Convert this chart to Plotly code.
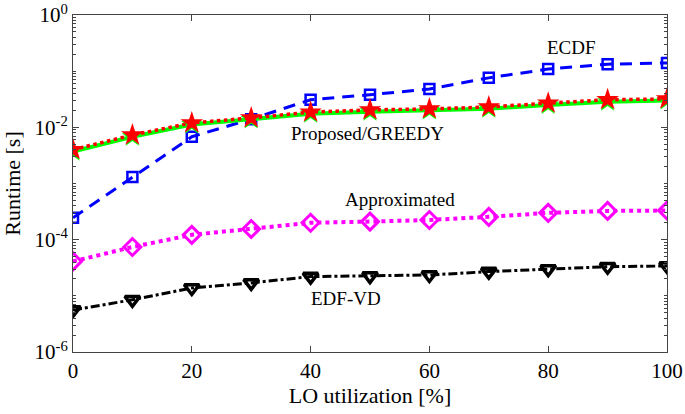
import math
import plotly.graph_objects as go

util = [0, 10, 20, 30, 40, 50, 60, 70, 80, 90, 100]

greedy = [0.0040, 0.0073, 0.012, 0.0147, 0.0187, 0.0204, 0.0213, 0.023, 0.027, 0.031, 0.032]
proposed = [0.0037, 0.0068, 0.0112, 0.0138, 0.0175, 0.019, 0.020, 0.0215, 0.025, 0.0285, 0.030]
ecdf = [2.45e-4, 1.3e-3, 6.8e-3, 0.014, 0.031, 0.038, 0.048, 0.076, 0.109, 0.133, 0.14]
approx = [4.1e-5, 7.4e-5, 1.22e-4, 1.55e-4, 2.0e-4, 2.1e-4, 2.24e-4, 2.55e-4, 3.0e-4, 3.25e-4, 3.3e-4]
edfvd = [5.6e-6, 8.5e-6, 1.38e-5, 1.7e-5, 2.2e-5, 2.25e-5, 2.35e-5, 2.7e-5, 3.0e-5, 3.3e-5, 3.4e-5]

labels = ["ECDF", "Proposed/GREEDY", "Approximated", "EDF-VD"]
label_x = [84, 49.5, 55, 46]
label_y = [0.26, 0.0079, 5.1e-4, 9.1e-6]

y_ticks = [1e-6, 1e-4, 1e-2, 1]
y_ticktext = ["10<sup>-6</sup>", "10<sup>-4</sup>", "10<sup>-2</sup>", "10<sup>0</sup>"]

FONT = "Liberation Serif, Times New Roman, serif"

fig = go.Figure()
fig.add_scatter(x=util, y=ecdf, mode="lines+markers", name="ECDF",
                line=dict(color="#0000ff", width=3, dash="12px,8px"),
                marker=dict(symbol="square-open", size=10, color="#0000ff",
                            line=dict(width=2.5, color="#0000ff")))
fig.add_scatter(x=util, y=approx, mode="lines+markers", name="Approximated",
                line=dict(color="#ff00ff", width=4, dash="dot"),
                marker=dict(symbol="diamond-open", size=13, color="#ff00ff",
                            line=dict(width=3, color="#ff00ff")))
fig.add_scatter(x=util, y=edfvd, mode="lines+markers", name="EDF-VD",
                line=dict(color="black", width=3, dash="dashdot"),
                marker=dict(symbol="triangle-down-open", size=13, color="black",
                            line=dict(width=3.5, color="black")))
fig.add_scatter(x=util, y=proposed, mode="lines+markers", name="Proposed",
                line=dict(color="#00ff00", width=4),
                marker=dict(symbol="star", size=16, color="#00ff00"))
fig.add_scatter(x=util, y=greedy, mode="lines+markers", name="GREEDY",
                line=dict(color="#ff0000", width=3.5, dash="dot"),
                marker=dict(symbol="star", size=17, color="#ff0000"))

# log axis: annotation y is given in log10 units
for t, xx, yy in zip(labels, label_x, label_y):
    fig.add_annotation(x=xx, y=math.log10(yy), text=t, showarrow=False,
                       font=dict(family=FONT, size=19, color="black"))

fig.update_xaxes(range=[0, 100], tickvals=[0, 20, 40, 60, 80, 100],
                 ticks="inside", ticklen=6, tickcolor="#444", mirror="ticks",
                 showline=True, linecolor="#444", linewidth=1, showgrid=False,
                 zeroline=False, ticklabelstandoff=0, automargin=False,
                 ticklabeloverflow="allow",
                 tickfont=dict(family=FONT, size=21, color="black"),
                 title=dict(text="LO utilization [%]", standoff=4,
                            font=dict(family=FONT, size=22, color="black")))
fig.update_yaxes(type="log", range=[-6, 0], tickvals=y_ticks, ticktext=y_ticktext,
                 ticks="inside", ticklen=6, tickcolor="#444", mirror="ticks",
                 showline=True, linecolor="#444", linewidth=1, showgrid=False,
                 zeroline=False, automargin=False, ticklabeloverflow="allow",
                 tickfont=dict(family=FONT, size=21, color="black"),
                 minor=dict(ticks="inside", ticklen=3, dtick="D1", tickcolor="#444",
                            showgrid=False),
                 title=dict(text="Runtime [s]", standoff=12,
                            font=dict(family=FONT, size=22, color="black")))
fig.update_layout(width=685, height=414, showlegend=False,
                  margin=dict(l=73, r=18, t=15, b=62),
                  plot_bgcolor="white", paper_bgcolor="white")

# drop the default 8px body margin so the figure fills the window exactly
fig.write_html("out.html", config={"displayModeBar": False},
               post_script="document.body.style.margin='0';")
